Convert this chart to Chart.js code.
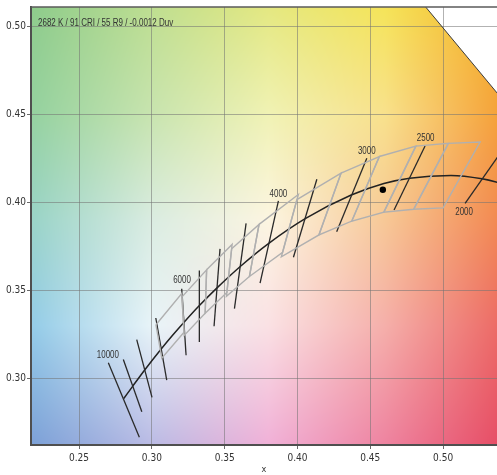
<!DOCTYPE html>
<html>
<head>
<meta charset="utf-8">
<script src="https://cdn.jsdelivr.net/npm/chart.js@4.4.1/dist/chart.umd.min.js"></script>
<style>
  html, body { margin: 0; padding: 0; background: #fff; }
  #wrap { width: 497px; height: 475px; }
</style>
</head>
<body>
<div id="wrap"><canvas id="cie" width="497" height="475"></canvas></div>
<script>
const summary = "2682 K / 91 CRI / 55 R9 / -0.0012 Duv";
const xRange = [0.217, 0.537];
const yRange = [0.262, 0.511];

// planckian locus (CCT in K)
const locusCct = [10000, 9000, 8000, 7000, 6500, 6000, 5500, 5000, 4500, 4000, 3500, 3000, 2700, 2500, 2200, 2000, 1900, 1800];
const locusX = [0.2807, 0.2869, 0.2952, 0.3064, 0.3135, 0.3221, 0.3323, 0.3451, 0.3607, 0.3805, 0.4053, 0.4369, 0.4593, 0.4770, 0.5054, 0.5267, 0.5381, 0.5496];
const locusY = [0.2884, 0.2955, 0.3048, 0.3166, 0.3237, 0.3318, 0.3410, 0.3516, 0.3635, 0.3768, 0.3907, 0.4041, 0.4107, 0.4137, 0.4152, 0.4133, 0.4111, 0.4081];

// isotherms: upper end / lower end
const isoCct = [10000, 9000, 8000, 7000, 6000, 5500, 5000, 4500, 4000, 3500, 3000, 2500, 2000];
const isoTopX = [0.2701, 0.2804, 0.2896, 0.3027, 0.3205, 0.3326, 0.3468, 0.3647, 0.3869, 0.4133, 0.4476, 0.4876, 0.5459];
const isoTopY = [0.3087, 0.3106, 0.3219, 0.3342, 0.3508, 0.3612, 0.3735, 0.3880, 0.4008, 0.4131, 0.4250, 0.4320, 0.4358];
const isoBotX = [0.2914, 0.2931, 0.3001, 0.3102, 0.3235, 0.3326, 0.3427, 0.3567, 0.3743, 0.3972, 0.4269, 0.4663, 0.5151];
const isoBotY = [0.2664, 0.2809, 0.2891, 0.2989, 0.3130, 0.3206, 0.3295, 0.3395, 0.3540, 0.3687, 0.3833, 0.3956, 0.3993];

const labelText = ["10000", "6000", "4000", "3000", "2500", "2000"];
const labelX = [0.2698, 0.3207, 0.3869, 0.4476, 0.4880, 0.5144];
const labelY = [0.3130, 0.3555, 0.4046, 0.4292, 0.4364, 0.3942];

// ANSI C78.377 quadrangles (corners: upper-left, upper-right, lower-right, lower-left)
const quadCct = [6500, 5700, 5000, 4500, 4000, 3500, 3000, 2700, 2500, 2200];
const quadX = [
  [0.3028, 0.3205, 0.3221, 0.3068],
  [0.3207, 0.3376, 0.3366, 0.3222],
  [0.3376, 0.3551, 0.3515, 0.3366],
  [0.3548, 0.3736, 0.3670, 0.3512],
  [0.3736, 0.4006, 0.3898, 0.3670],
  [0.3996, 0.4299, 0.4147, 0.3889],
  [0.4299, 0.4562, 0.4373, 0.4147],
  [0.4562, 0.4813, 0.4593, 0.4373],
  [0.4813, 0.5036, 0.4798, 0.4593],
  [0.5036, 0.5254, 0.5000, 0.4798],
];
const quadY = [
  [0.3304, 0.3481, 0.3261, 0.3113],
  [0.3462, 0.3616, 0.3369, 0.3243],
  [0.3616, 0.3760, 0.3487, 0.3369],
  [0.3736, 0.3874, 0.3578, 0.3465],
  [0.3874, 0.4044, 0.3716, 0.3578],
  [0.4015, 0.4165, 0.3814, 0.3690],
  [0.4165, 0.4260, 0.3893, 0.3814],
  [0.4260, 0.4319, 0.3944, 0.3893],
  [0.4319, 0.4335, 0.3960, 0.3944],
  [0.4335, 0.4342, 0.3968, 0.3960],
];

// spectral locus edge, 570..590 nm
const spectralX = [0.4441, 0.4788, 0.5125, 0.5448, 0.5752];
const spectralY = [0.5547, 0.5202, 0.4866, 0.4544, 0.4242];

// measured point
const sampleX = [0.4586];
const sampleY = [0.4071];

// background tint anchors (style only)
const tintX = [0.22, 0.30, 0.38, 0.46, 0.54];
const tintY = [0.26, 0.33, 0.39, 0.45, 0.51];
const tintRows = [
  [[125, 160, 215], [185, 185, 228], [240, 175, 215], [238, 130, 160], [230, 75, 100]],
  [[150, 205, 232], [232, 244, 248], [250, 225, 228], [245, 175, 170], [236, 105, 100]],
  [[155, 212, 200], [218, 236, 225], [252, 245, 225], [247, 200, 150], [242, 135, 80]],
  [[150, 210, 160], [200, 228, 175], [240, 242, 180], [248, 225, 140], [245, 160, 55]],
  [[143, 204, 140], [190, 222, 145], [228, 232, 130], [245, 228, 90], [245, 175, 40]],
];

const textColor = "#333333";
const gridColor = "rgba(115,115,115,0.55)";
const narrow = "'Liberation Sans Narrow', 'Arial Narrow', 'DejaVu Sans Condensed', 'Liberation Sans', sans-serif";

function cell(arr, v) {
  let i = 0;
  while (i < arr.length - 2 && v > arr[i + 1]) i++;
  let t = (v - arr[i]) / (arr[i + 1] - arr[i]);
  t = Math.max(0, Math.min(1, t));
  return [i, t];
}

function tint(vx, vy) {
  const [i, tx] = cell(tintX, vx);
  const [j, ty] = cell(tintY, vy);
  const a = tintRows[j][i], b = tintRows[j][i + 1];
  const c = tintRows[j + 1][i], d = tintRows[j + 1][i + 1];
  const out = [0, 0, 0];
  for (let k = 0; k < 3; k++) {
    const lo = a[k] + (b[k] - a[k]) * tx;
    const hi = c[k] + (d[k] - c[k]) * tx;
    out[k] = lo + (hi - lo) * ty;
  }
  return out;
}

const backdrop = {
  id: "backdrop",
  beforeDraw(chart) {
    const { ctx, chartArea: a, scales } = chart;
    const w = Math.round(a.right - a.left);
    const h = Math.round(a.bottom - a.top);
    const off = document.createElement("canvas");
    off.width = w;
    off.height = h;
    const octx = off.getContext("2d");
    const img = octx.createImageData(w, h);
    for (let j = 0; j < h; j++) {
      const vy = scales.y.getValueForPixel(a.top + j + 0.5);
      for (let i = 0; i < w; i++) {
        const vx = scales.x.getValueForPixel(a.left + i + 0.5);
        const c = tint(vx, vy);
        const p = (j * w + i) * 4;
        img.data[p] = c[0];
        img.data[p + 1] = c[1];
        img.data[p + 2] = c[2];
        img.data[p + 3] = 255;
      }
    }
    octx.putImageData(img, 0, 0);
    ctx.save();
    ctx.drawImage(off, a.left, a.top, w, h);
    // outside the spectral locus stays white
    ctx.beginPath();
    ctx.rect(a.left, a.top, a.right - a.left, a.bottom - a.top);
    ctx.clip();
    ctx.beginPath();
    spectralX.forEach((v, k) => {
      const px = scales.x.getPixelForValue(v);
      const py = scales.y.getPixelForValue(spectralY[k]);
      if (k === 0) ctx.moveTo(px, py);
      else ctx.lineTo(px, py);
    });
    ctx.lineTo(scales.x.getPixelForValue(0.8), scales.y.getPixelForValue(0.42));
    ctx.lineTo(scales.x.getPixelForValue(0.8), scales.y.getPixelForValue(0.8));
    ctx.lineTo(scales.x.getPixelForValue(0.44), scales.y.getPixelForValue(0.8));
    ctx.closePath();
    ctx.fillStyle = "#ffffff";
    ctx.fill();
    ctx.restore();
  },
};

function squeezedText(ctx, text, px, py, size, align, squeeze) {
  ctx.font = `${size}px 'Liberation Sans', Arial, sans-serif`;
  const w = ctx.measureText(text).width * squeeze;
  ctx.textAlign = align;
  ctx.fillText(text, px, py, w);
}

const annotations = {
  id: "annotations",
  afterDatasetsDraw(chart) {
    const { ctx, chartArea: a, scales } = chart;
    ctx.save();
    ctx.fillStyle = textColor;
    ctx.textBaseline = "middle";
    labelText.forEach((t, k) => {
      squeezedText(ctx, t, scales.x.getPixelForValue(labelX[k]), scales.y.getPixelForValue(labelY[k]), 10.5, "center", 0.76);
    });
    ctx.textBaseline = "alphabetic";
    squeezedText(ctx, summary, a.left + 7, a.top + 19, 10, "left", 0.8);
    // top frame
    ctx.strokeStyle = "#5a5a5a";
    ctx.lineWidth = 1.5;
    ctx.beginPath();
    ctx.moveTo(a.left, a.top);
    ctx.lineTo(a.right, a.top);
    ctx.stroke();
    ctx.restore();
  },
};

const pts = (xs, ys) => xs.map((v, k) => ({ x: v, y: ys[k] }));

const datasets = [];
quadX.forEach((qx, k) => {
  datasets.push({
    label: `ANSI ${quadCct[k]} K`,
    data: pts([...qx, qx[0]], [...quadY[k], quadY[k][0]]),
    showLine: true,
    borderColor: "#b0b0b0",
    borderWidth: 1.4,
    pointRadius: 0,
    fill: false,
  });
});
isoCct.forEach((t, k) => {
  datasets.push({
    label: `${t} K isotherm`,
    data: pts([isoTopX[k], isoBotX[k]], [isoTopY[k], isoBotY[k]]),
    showLine: true,
    borderColor: "#2a2a2a",
    borderWidth: 1.3,
    pointRadius: 0,
    fill: false,
  });
});
datasets.push({
  label: "Planckian locus",
  data: pts(locusX, locusY),
  showLine: true,
  borderColor: "#222222",
  borderWidth: 1.5,
  pointRadius: 0,
  cubicInterpolationMode: "monotone",
  fill: false,
});
datasets.push({
  label: "Spectral locus",
  data: pts(spectralX, spectralY),
  showLine: true,
  borderColor: "#3a3a3a",
  borderWidth: 1,
  pointRadius: 0,
  fill: false,
});
datasets.push({
  label: "Sample",
  data: pts(sampleX, sampleY),
  showLine: false,
  pointRadius: 3.2,
  pointBackgroundColor: "#000000",
  pointBorderWidth: 0,
});

new Chart(document.getElementById("cie"), {
  type: "scatter",
  data: { datasets },
  plugins: [backdrop, annotations],
  options: {
    responsive: false,
    animation: false,
    layout: { autoPadding: false, padding: { top: 6, left: 0, right: 0, bottom: 0 } },
    plugins: { legend: { display: false }, tooltip: { enabled: false } },
    scales: {
      x: {
        type: "linear",
        min: xRange[0],
        max: xRange[1],
        ticks: {
          stepSize: 0.05,
          includeBounds: false,
          maxRotation: 0,
          autoSkip: false,
          padding: 3,
          color: textColor,
          font: { family: narrow, size: 10 },
          callback: (v) => v.toFixed(2),
        },
        grid: { color: gridColor, lineWidth: 1, tickLength: 4, tickColor: "#6a6a6a" },
        border: { color: "#4f4f4f", width: 2 },
        title: { display: true, text: "x", color: textColor, font: { family: narrow, size: 9 }, padding: { top: 3, bottom: 0 } },
        afterFit(s) { s.height = 30; },
      },
      y: {
        type: "linear",
        min: yRange[0],
        max: yRange[1],
        ticks: {
          stepSize: 0.05,
          includeBounds: false,
          padding: 1,
          color: textColor,
          font: { family: narrow, size: 10 },
          callback: (v) => v.toFixed(2),
        },
        grid: { color: gridColor, lineWidth: 1, tickLength: 4, tickColor: "#6a6a6a" },
        border: { color: "#4f4f4f", width: 2 },
        afterFit(s) { s.width = 31; },
      },
    },
  },
});
</script>
</body>
</html>
